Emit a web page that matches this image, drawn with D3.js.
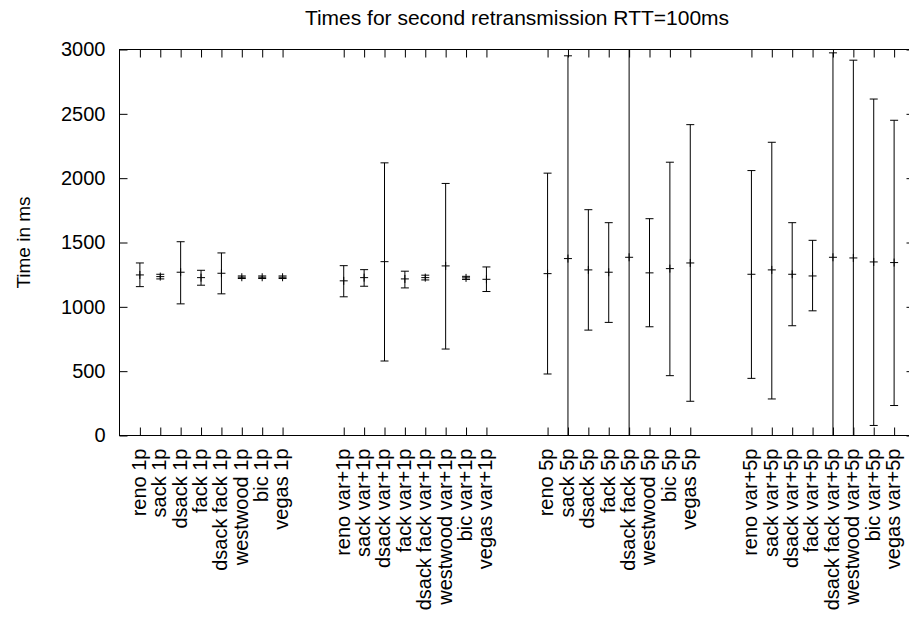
<!DOCTYPE html>
<html>
<head>
<meta charset="utf-8">
<script src="https://cdn.jsdelivr.net/npm/d3@7"></script>
<style>
  body { margin: 0; background: #fff; }
  text { font-family: "Liberation Sans", Arial, sans-serif; fill: #000; }
</style>
</head>
<body>
<svg id="chart" width="909" height="620"></svg>
<script>
// category labels, one list per group (a gap of two slots is left between groups)
let labels1p = ["reno 1p","sack 1p","dsack 1p","fack 1p","dsack fack 1p","westwood 1p","bic 1p","vegas 1p"];
let labelsVar1p = ["reno var+1p","sack var+1p","dsack var+1p","fack var+1p","dsack fack var+1p","westwood var+1p","bic var+1p","vegas var+1p"];
let labels5p = ["reno 5p","sack 5p","dsack 5p","fack 5p","dsack fack 5p","westwood 5p","bic 5p","vegas 5p"];
let labelsVar5p = ["reno var+5p","sack var+5p","dsack var+5p","fack var+5p","dsack fack var+5p","westwood var+5p","bic var+5p","vegas var+5p"];

// mean time, lower and upper end of error bar (ms)
let mean1p = [1248,1235,1269,1227,1261,1230,1230,1230];
let low1p  = [1157,1217,1023,1168,1101,1220,1220,1220];
let high1p = [1341,1253,1506,1284,1419,1240,1240,1240];

let meanVar1p = [1202,1227,1351,1217,1227,1318,1225,1214];
let lowVar1p  = [1078,1160, 579,1147,1209, 672,1213,1119];
let highVar1p = [1320,1289,2119,1277,1246,1959,1237,1310];

let mean5p = [1258,1375,1287,1269,1385,1264,1297,1341];
let low5p  = [ 478,-201, 819, 879,-400, 845, 465, 266];
let high5p = [2039,2951,1755,1654,3170,1685,2124,2416];

let meanVar5p = [1253,1287,1253,1240,1385,1380,1349,1344];
let lowVar5p  = [ 444, 284, 853, 969,-204,-157,  78, 233];
let highVar5p = [2059,2279,1654,1517,2974,2917,2615,2450];

let yTicks = [0,500,1000,1500,2000,2500,3000];

let groups = [
    {labels: labels1p, mean: mean1p, low: low1p, high: high1p},
    {labels: labelsVar1p, mean: meanVar1p, low: lowVar1p, high: highVar1p},
    {labels: labels5p, mean: mean5p, low: low5p, high: high5p},
    {labels: labelsVar5p, mean: meanVar5p, low: lowVar5p, high: highVar5p}
];

// flatten into one list of points, each with its slot on the x axis
let sequence = [];
groups.forEach(function(g, gi){
    g.labels.forEach(function(l, i){
        sequence.push({x: gi*10 + i, label: l, y: g.mean[i], lo: g.low[i], hi: g.high[i]});
    });
});

let svg = d3.select("#chart");
let plotLeft = 119.5, plotRight = 914.5, plotTop = 49.5, plotBottom = 435.5;

let xScale = d3.scaleLinear().domain([-1, 38]).range([plotLeft, plotRight]);
let yScale = d3.scaleLinear().domain([0, 3000]).range([plotBottom, plotTop]);

let fontSize = "20px";

// title
svg.append("text")
    .attr("x", (plotLeft + plotRight)/2)
    .attr("y", 25)
    .attr("text-anchor", "middle")
    .style("font-size", "21px")
    .text("Times for second retransmission RTT=100ms");

// y label
svg.append("text")
    .attr("transform", "translate(" + 30 + "," + ((plotTop + plotBottom)/2) + ") rotate(-90)")
    .attr("text-anchor", "middle")
    .style("font-size", "19px")
    .text("Time in ms");

// y axis left, with labels
let yAxis = d3.axisLeft(yScale).tickValues(yTicks).tickFormat(d3.format("d"))
    .tickSizeInner(-8).tickSizeOuter(0).tickPadding(14);
let gy = svg.append("g").attr("transform", "translate(" + plotLeft + ",0)").call(yAxis);
gy.select(".domain").remove();
gy.selectAll("text").style("font-size", fontSize).style("font-family", "Liberation Sans, Arial, sans-serif");

// y axis right, mirror ticks only
let yAxisR = d3.axisRight(yScale).tickValues(yTicks).tickSizeInner(-8).tickSizeOuter(0).tickFormat("");
let gyr = svg.append("g").attr("transform", "translate(" + plotRight + ",0)").call(yAxisR);
gyr.select(".domain").remove();

// x axis bottom with rotated labels
let xAxis = d3.axisBottom(xScale)
    .tickValues(sequence.map(d => d.x))
    .tickFormat(function(v){ return sequence.find(d => d.x === v).label; })
    .tickSizeInner(-8).tickSizeOuter(0);
let gx = svg.append("g").attr("transform", "translate(0," + plotBottom + ")").call(xAxis);
gx.select(".domain").remove();
gx.selectAll("text")
    .attr("transform", "rotate(-90)")
    .attr("text-anchor", "end")
    .attr("x", -13)
    .attr("y", 0)
    .attr("dy", "0.27em")
    .style("font-size", fontSize)
    .style("font-family", "Liberation Sans, Arial, sans-serif");

// x axis top, mirror ticks
let xAxisT = d3.axisTop(xScale).tickValues(sequence.map(d => d.x)).tickFormat("").tickSizeInner(-8).tickSizeOuter(0);
let gxt = svg.append("g").attr("transform", "translate(0," + plotTop + ")").call(xAxisT);
gxt.select(".domain").remove();

svg.selectAll(".tick line").attr("stroke", "#000");

// border
svg.append("rect")
    .attr("x", plotLeft).attr("y", plotTop)
    .attr("width", plotRight - plotLeft).attr("height", plotBottom - plotTop)
    .attr("fill", "none").attr("stroke", "#000").attr("stroke-width", 1);

svg.append("clipPath").attr("id", "plotClip")
    .append("rect")
    .attr("x", plotLeft).attr("y", plotTop)
    .attr("width", plotRight - plotLeft).attr("height", plotBottom - plotTop);

// error bars
let cap = 4;
let bars = svg.append("g").attr("clip-path", "url(#plotClip)")
    .attr("stroke", "#000").attr("stroke-width", 1).attr("fill", "none");

let eb = bars.selectAll(".eb").data(sequence).enter().append("g").attr("class", "eb");
eb.append("line") // vertical bar
    .attr("x1", d => xScale(d.x)).attr("x2", d => xScale(d.x))
    .attr("y1", d => yScale(d.lo)).attr("y2", d => yScale(d.hi));
eb.append("line") // top cap
    .attr("x1", d => xScale(d.x) - cap).attr("x2", d => xScale(d.x) + cap)
    .attr("y1", d => yScale(d.hi)).attr("y2", d => yScale(d.hi));
eb.append("line") // bottom cap
    .attr("x1", d => xScale(d.x) - cap).attr("x2", d => xScale(d.x) + cap)
    .attr("y1", d => yScale(d.lo)).attr("y2", d => yScale(d.lo));
eb.append("line") // + marker, horizontal
    .attr("x1", d => xScale(d.x) - cap).attr("x2", d => xScale(d.x) + cap)
    .attr("y1", d => yScale(d.y)).attr("y2", d => yScale(d.y));
eb.append("line") // + marker, vertical
    .attr("x1", d => xScale(d.x)).attr("x2", d => xScale(d.x))
    .attr("y1", d => yScale(d.y) - cap).attr("y2", d => yScale(d.y) + cap);
</script>
</body>
</html>
